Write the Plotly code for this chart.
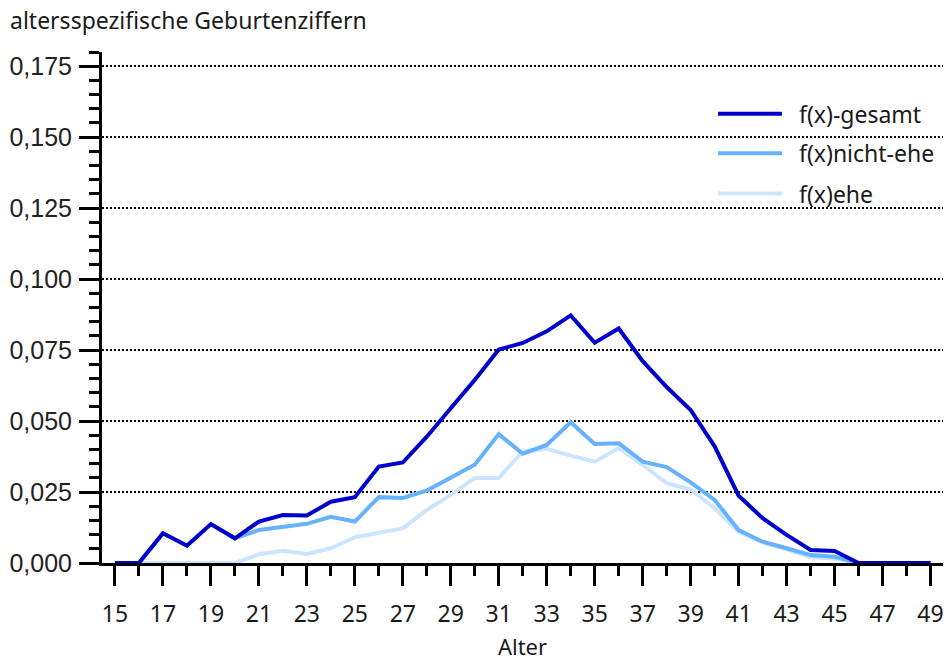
import plotly.graph_objects as go

ages = list(range(15, 50))
gesamt = [0, 0, 0.0105, 0.0061, 0.0137, 0.0087, 0.0146, 0.0169, 0.0167, 0.0216,
          0.0232, 0.0340, 0.0354, 0.0445, 0.0545, 0.0645, 0.0752, 0.0775, 0.0816, 0.0872,
          0.0776, 0.0826, 0.0711, 0.0620, 0.0539, 0.0411, 0.0237, 0.0158, 0.0099, 0.0046,
          0.0042, 0, 0, 0, 0]
nicht_ehe = [0, 0, 0.0105, 0.0061, 0.0137, 0.0087, 0.0116, 0.0128, 0.0138, 0.0163,
             0.0146, 0.0232, 0.0229, 0.0255, 0.0301, 0.0346, 0.0454, 0.0385, 0.0416, 0.0496,
             0.0419, 0.0422, 0.0357, 0.0338, 0.0284, 0.0222, 0.0116, 0.0075, 0.0052, 0.0028,
             0.0022, 0, 0, 0, 0]
ehe = [0, 0, 0, 0, 0, 0, 0.0031, 0.0043, 0.0032, 0.0052,
       0.0091, 0.0108, 0.0122, 0.0187, 0.0240, 0.0299, 0.0299, 0.0393, 0.0402, 0.0378,
       0.0357, 0.0405, 0.0346, 0.0281, 0.0259, 0.0193, 0.0110, 0.0072, 0.0048, 0.0020,
       0.0016, 0, 0, 0, 0]

series_names = ["f(x)-gesamt", "f(x)nicht-ehe", "f(x)ehe"]
series_values = [gesamt, nicht_ehe, ehe]
series_colors = ["#0000CC", "#66B2FF", "#CCE5FF"]

y_tickvals = [0, 0.025, 0.05, 0.075, 0.1, 0.125, 0.15, 0.175]
y_ticktext = ["0,000", "0,025", "0,050", "0,075", "0,100", "0,125", "0,150", "0,175"]

TXT = "#1a1a1a"

fig = go.Figure()
# draw lightest first so darker series sit on top
for name, vals, col in reversed(list(zip(series_names, series_values, series_colors))):
    fig.add_trace(go.Scatter(x=ages, y=vals, mode="lines", name=name,
                             line=dict(color=col, width=4), showlegend=False))

# manual legend (longer line samples than plotly's native legend)
leg_x0, leg_x1, leg_tx = 0.7325, 0.8085, 0.826
leg_y = [0.879, 0.802, 0.723]
for name, col, yy in zip(series_names, series_colors, leg_y):
    fig.add_shape(type="line", xref="paper", yref="paper", x0=leg_x0, x1=leg_x1,
                  y0=yy, y1=yy, line=dict(color=col, width=4))
    fig.add_annotation(xref="paper", yref="paper", x=leg_tx, y=yy, text=name,
                       showarrow=False, xanchor="left", yanchor="middle",
                       font=dict(family="Noto Sans", size=23, color=TXT))

fig.add_annotation(xref="paper", yref="paper", x=-102/841 + 8/841, y=1 + 32/511,
                   text="altersspezifische Geburtenziffern", showarrow=False,
                   xanchor="left", yanchor="middle",
                   font=dict(family="Noto Sans", size=23, color=TXT))

fig.update_layout(
    width=947, height=662,
    margin=dict(l=102, r=4, t=52, b=99),
    paper_bgcolor="white", plot_bgcolor="white",
    xaxis=dict(range=[14.46, 49.52], tickmode="linear", tick0=15, dtick=2,
               ticks="outside", ticklen=20, tickwidth=3, tickcolor="black",
               minor=dict(dtick=1, tick0=15, ticks="outside", ticklen=10,
                          tickwidth=3, tickcolor="black"),
               showline=True, linecolor="black", linewidth=3, showgrid=False,
               zeroline=False, automargin=False, ticklabelstandoff=8,
               tickfont=dict(family="Noto Sans", size=23, color=TXT),
               title=dict(text="Alter", font=dict(family="Noto Sans", size=22, color=TXT),
                          standoff=13)),
    yaxis=dict(range=[0, 0.18], tickmode="array", tickvals=y_tickvals, ticktext=y_ticktext,
               ticks="outside", ticklen=20, tickwidth=3, tickcolor="black",
               minor=dict(dtick=0.005, tick0=0, ticks="outside", ticklen=10,
                          tickwidth=3, tickcolor="black", showgrid=False),
               showline=True, linecolor="black", linewidth=3,
               showgrid=True, gridcolor="black", gridwidth=2, griddash="2px,2px",
               zeroline=False, automargin=False, ticklabelstandoff=2,
               tickfont=dict(family="Liberation Sans", size=25, color="#222")),
)

fig.write_html("out.html", config={"displayModeBar": False},
               post_script="document.body.style.margin='0';document.body.style.overflow='hidden';")
